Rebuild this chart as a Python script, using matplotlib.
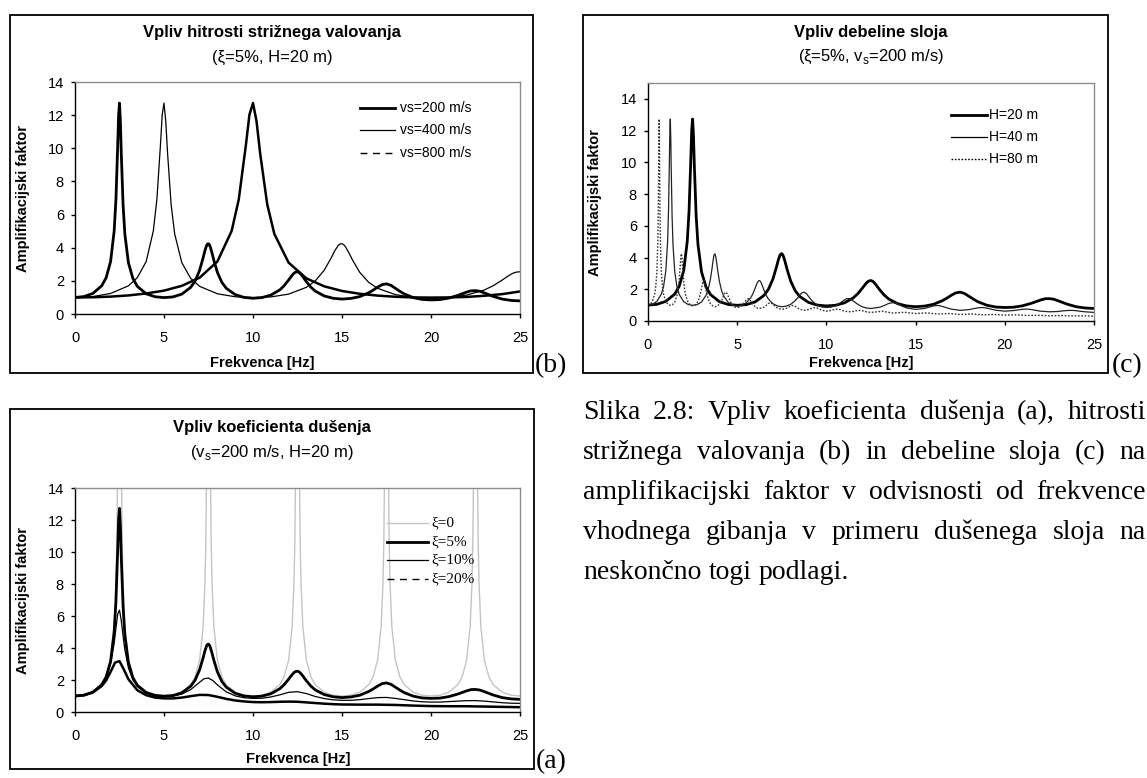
import matplotlib
matplotlib.use("Agg")
import matplotlib.pyplot as plt
from matplotlib.lines import Line2D
from matplotlib.patches import Rectangle

W, H = 1147, 778

# ---------------- data ----------------
x_ticks = [0, 5, 10, 15, 20, 25]

# (b) influence of shear wave velocity (xi=5%, H=20 m)
f_vs200 = [0, 0.5, 1, 1.5, 1.75, 2, 2.2, 2.3, 2.4, 2.45, 2.5, 2.55, 2.6, 2.7, 2.8, 3, 3.25, 3.5, 4, 4.5, 5,
           5.5, 6, 6.5, 6.75, 7, 7.2, 7.3, 7.4, 7.45, 7.5, 7.55, 7.6, 7.7, 7.8, 8, 8.25, 8.5, 9, 9.5, 10,
           10.5, 11, 11.5, 11.75, 12, 12.2, 12.3, 12.4, 12.5, 12.6, 12.7, 12.8, 13, 13.25, 13.5, 14, 14.5, 15,
           15.5, 16, 16.5, 16.75, 17, 17.25, 17.5, 17.75, 18, 18.25, 18.5, 19, 19.5, 20,
           20.5, 21, 21.5, 21.75, 22, 22.25, 22.5, 22.75, 23, 23.5, 24, 24.5, 25]
a_vs200 = [1.00, 1.05, 1.24, 1.70, 2.19, 3.17, 5.01, 6.91, 10.19, 12.03, 12.73, 11.62, 9.71, 6.61, 4.83, 3.10, 2.15, 1.67, 1.22, 1.04, 0.99,
           1.03, 1.20, 1.61, 2.00, 2.64, 3.40, 3.83, 4.15, 4.23, 4.24, 4.18, 4.05, 3.67, 3.24, 2.51, 1.91, 1.55, 1.17, 1.00, 0.95,
           0.99, 1.14, 1.45, 1.71, 2.05, 2.34, 2.46, 2.53, 2.55, 2.50, 2.39, 2.25, 1.95, 1.62, 1.38, 1.09, 0.95, 0.90,
           0.94, 1.05, 1.28, 1.44, 1.62, 1.77, 1.82, 1.73, 1.55, 1.37, 1.21, 0.99, 0.88, 0.85,
           0.87, 0.96, 1.12, 1.22, 1.32, 1.40, 1.41, 1.37, 1.27, 1.06, 0.90, 0.82, 0.79]

f_vs400 = [0, 1, 2, 3, 3.5, 4, 4.4, 4.6, 4.8, 4.9, 5, 5.1, 5.2, 5.4, 5.6, 6, 6.5, 7, 8, 9, 10,
           11, 12, 13, 13.5, 14, 14.4, 14.6, 14.8, 14.9, 15, 15.1, 15.2, 15.4, 15.6, 16, 16.5, 17, 18, 19, 20,
           21, 22, 23, 23.5, 24, 24.4, 24.6, 24.8, 25]
a_vs400 = [1.00, 1.05, 1.24, 1.70, 2.19, 3.17, 5.01, 6.91, 10.19, 12.03, 12.73, 11.62, 9.71, 6.61, 4.83, 3.10, 2.15, 1.67, 1.22, 1.04, 0.99,
           1.03, 1.20, 1.61, 2.00, 2.64, 3.40, 3.83, 4.15, 4.23, 4.24, 4.18, 4.05, 3.67, 3.24, 2.51, 1.91, 1.55, 1.17, 1.00, 0.95,
           0.99, 1.14, 1.45, 1.71, 2.05, 2.34, 2.46, 2.53, 2.55]

f_vs800 = [0, 1, 2, 3, 4, 5, 6, 7, 8, 8.8, 9.2, 9.6, 9.8, 10, 10.2, 10.4, 10.8, 11.2, 12, 13, 14, 15, 16,
           17, 18, 19, 20, 21, 22, 23, 24, 25]
a_vs800 = [1.00, 1.01, 1.05, 1.12, 1.24, 1.41, 1.70, 2.19, 3.17, 5.01, 6.91, 10.19, 12.03, 12.73, 11.62, 9.71, 6.61, 4.83, 3.10, 2.15, 1.67, 1.39, 1.22,
           1.11, 1.04, 1.00, 0.99, 1.00, 1.03, 1.10, 1.20, 1.36]

# (a) influence of damping (vs=200 m/s, H=20 m)
f_xi0 = [0, 0.5, 1, 1.5, 1.75, 2, 2.2, 2.3, 2.35, 2.4, 2.45, 2.55, 2.6, 2.65, 2.7, 2.8, 3, 3.25, 3.5, 4, 4.5, 5,
         5.5, 6, 6.5, 6.75, 7, 7.2, 7.3, 7.35, 7.4, 7.45, 7.55, 7.6, 7.65, 7.7, 7.8, 8, 8.25, 8.5, 9, 9.5, 10,
         10.5, 11, 11.5, 11.75, 12, 12.2, 12.3, 12.35, 12.4, 12.45, 12.55, 12.6, 12.65, 12.7, 12.8, 13, 13.25, 13.5, 14, 14.5, 15,
         15.5, 16, 16.5, 16.75, 17, 17.2, 17.3, 17.35, 17.4, 17.45, 17.55, 17.6, 17.65, 17.7, 17.8, 18, 18.25, 18.5, 19, 19.5, 20,
         20.5, 21, 21.5, 21.75, 22, 22.2, 22.3, 22.35, 22.4, 22.45, 22.55, 22.6, 22.65, 22.7, 22.8, 23, 23.25, 23.5, 24, 24.5, 25]
a_xi0 = [1.00, 1.05, 1.24, 1.70, 2.20, 3.24, 5.34, 7.98, 10.63, 15.92, 31.8, 31.8, 15.92, 10.63, 7.98, 5.34, 3.24, 2.20, 1.70, 1.24, 1.05, 1.00,
         1.05, 1.24, 1.70, 2.20, 3.24, 5.34, 7.98, 10.63, 15.92, 31.8, 31.8, 15.92, 10.63, 7.98, 5.34, 3.24, 2.20, 1.70, 1.24, 1.05, 1.00,
         1.05, 1.24, 1.70, 2.20, 3.24, 5.34, 7.98, 10.63, 15.92, 31.8, 31.8, 15.92, 10.63, 7.98, 5.34, 3.24, 2.20, 1.70, 1.24, 1.05, 1.00,
         1.05, 1.24, 1.70, 2.20, 3.24, 5.34, 7.98, 10.63, 15.92, 31.8, 31.8, 15.92, 10.63, 7.98, 5.34, 3.24, 2.20, 1.70, 1.24, 1.05, 1.00,
         1.05, 1.24, 1.70, 2.20, 3.24, 5.34, 7.98, 10.63, 15.92, 31.8, 31.8, 15.92, 10.63, 7.98, 5.34, 3.24, 2.20, 1.70, 1.24, 1.05, 1.00]

f_xi5 = f_vs200
a_xi5 = a_vs200

f_xi10 = [0, 0.5, 1, 1.5, 1.75, 2, 2.2, 2.3, 2.4, 2.5, 2.6, 2.7, 2.8, 3, 3.25, 3.5, 4, 4.5, 5,
          5.5, 6, 6.5, 7, 7.25, 7.5, 7.75, 8, 8.5, 9, 9.5, 10, 10.5, 11, 11.5, 12, 12.5, 13, 13.5, 14, 14.5, 15,
          15.5, 16, 16.5, 17, 17.5, 18, 18.5, 19, 19.5, 20, 20.5, 21, 21.5, 22, 22.5, 23, 23.5, 24, 24.5, 25]
a_xi10 = [1.00, 1.05, 1.23, 1.68, 2.14, 3.00, 4.29, 5.23, 6.12, 6.37, 5.71, 4.74, 3.89, 2.76, 2.01, 1.59, 1.18, 1.01, 0.95,
          0.99, 1.12, 1.40, 1.86, 2.08, 2.12, 1.96, 1.69, 1.26, 1.01, 0.89, 0.85, 0.86, 0.94, 1.07, 1.23, 1.27, 1.15, 0.97, 0.84, 0.76, 0.73,
          0.73, 0.77, 0.84, 0.90, 0.91, 0.85, 0.77, 0.69, 0.64, 0.62, 0.62, 0.65, 0.68, 0.71, 0.71, 0.68, 0.63, 0.58, 0.55, 0.54]

f_xi20 = [0, 0.5, 1, 1.5, 1.75, 2, 2.25, 2.5, 2.75, 3, 3.5, 4, 4.5, 5, 5.5, 6, 6.5, 7, 7.5, 8, 8.5, 9, 9.5, 10,
          10.5, 11, 11.5, 12, 12.5, 13, 13.5, 14, 14.5, 15, 16, 17, 17.5, 18, 19, 20, 21, 22, 22.5, 23, 24, 25]
a_xi20 = [1.00, 1.05, 1.22, 1.62, 1.98, 2.51, 3.09, 3.18, 2.64, 2.05, 1.36, 1.05, 0.90, 0.85, 0.85, 0.90, 0.99, 1.07, 1.06, 0.95, 0.82, 0.72, 0.66, 0.62,
          0.61, 0.62, 0.64, 0.65, 0.64, 0.60, 0.56, 0.52, 0.49, 0.47, 0.46, 0.46, 0.45, 0.44, 0.40, 0.37, 0.36, 0.36, 0.35, 0.34, 0.32, 0.30]

# (c) influence of layer thickness (xi=5%, vs=200 m/s)
f_h20 = f_vs200
a_h20 = a_vs200

f_h40 = [0, 0.25, 0.5, 0.75, 0.875, 1, 1.1, 1.15, 1.2, 1.225, 1.25, 1.275, 1.3, 1.35, 1.4, 1.5, 1.625, 1.75, 2, 2.25, 2.5,
         2.75, 3, 3.25, 3.375, 3.5, 3.6, 3.65, 3.7, 3.75, 3.8, 3.85, 3.9, 4, 4.125, 4.25, 4.5, 4.75, 5,
         5.25, 5.5, 5.75, 5.875, 6, 6.1, 6.15, 6.2, 6.25, 6.3, 6.35, 6.4, 6.5, 6.625, 6.75, 7, 7.25, 7.5,
         7.75, 8, 8.25, 8.375, 8.5, 8.625, 8.75, 8.875, 9, 9.125, 9.25, 9.5, 9.75, 10,
         10.25, 10.5, 10.75, 10.875, 11, 11.125, 11.25, 11.375, 11.5, 11.75, 12, 12.25, 12.5,
         13, 13.25, 13.5, 13.75, 14, 14.25, 14.5, 15, 15.5, 15.75, 16, 16.25, 16.5, 16.75, 17, 17.5,
         18, 18.25, 18.5, 18.75, 19, 19.25, 19.5, 20, 20.5, 20.75, 21, 21.25, 21.5, 21.75, 22, 22.5,
         23, 23.25, 23.5, 23.75, 24, 24.25, 24.5, 25]
a_h40 = [1.00, 1.05, 1.24, 1.70, 2.19, 3.17, 5.01, 6.91, 10.19, 12.03, 12.73, 11.62, 9.71, 6.61, 4.83, 3.10, 2.15, 1.67, 1.22, 1.04, 0.99,
         1.03, 1.20, 1.61, 2.00, 2.64, 3.40, 3.83, 4.15, 4.24, 4.05, 3.67, 3.24, 2.51, 1.91, 1.55, 1.17, 1.00, 0.95,
         0.99, 1.14, 1.45, 1.71, 2.05, 2.34, 2.46, 2.53, 2.55, 2.50, 2.39, 2.25, 1.95, 1.62, 1.38, 1.09, 0.95, 0.90,
         0.94, 1.05, 1.28, 1.44, 1.62, 1.77, 1.82, 1.73, 1.55, 1.37, 1.21, 0.99, 0.88, 0.85,
         0.87, 0.96, 1.12, 1.22, 1.32, 1.40, 1.41, 1.37, 1.27, 1.06, 0.90, 0.82, 0.79,
         0.87, 0.98, 1.11, 1.16, 1.07, 0.93, 0.82, 0.73, 0.79, 0.87, 0.95, 0.98, 0.92, 0.83, 0.75, 0.67,
         0.72, 0.78, 0.83, 0.85, 0.81, 0.74, 0.68, 0.62, 0.66, 0.70, 0.74, 0.75, 0.72, 0.67, 0.62, 0.58,
         0.60, 0.64, 0.66, 0.67, 0.65, 0.61, 0.58, 0.54]

f_h80 = [0, 0.125, 0.25, 0.375, 0.4375, 0.5, 0.55, 0.575, 0.6, 0.6125, 0.625, 0.6375, 0.65, 0.675, 0.7, 0.75, 0.8125, 0.875, 1, 1.125, 1.25,
         1.375, 1.5, 1.625, 1.6875, 1.75, 1.8, 1.825, 1.85, 1.875, 1.9, 1.925, 1.95, 2, 2.0625, 2.125, 2.25, 2.375, 2.5,
         2.625, 2.75, 2.875, 3, 3.05, 3.1, 3.125, 3.15, 3.2, 3.25, 3.375, 3.5, 3.625, 3.75,
         3.875, 4, 4.125, 4.25, 4.3125, 4.375, 4.4375, 4.5, 4.625, 4.75, 4.875, 5,
         5.125, 5.25, 5.375, 5.5, 5.5625, 5.625, 5.6875, 5.75, 5.875, 6, 6.125, 6.25,
         6.5, 6.625, 6.75, 6.875, 7, 7.125, 7.25, 7.5, 7.75, 7.875, 8, 8.125, 8.25, 8.375, 8.5, 8.75,
         9, 9.125, 9.25, 9.375, 9.5, 9.625, 9.75, 10, 10.25, 10.375, 10.5, 10.625, 10.75, 10.875, 11, 11.25,
         11.5, 11.625, 11.75, 11.875, 12, 12.125, 12.25, 12.5,
         13.125, 13.75, 14.375, 15, 15.625, 16.25, 16.875, 17.5, 18.125, 18.75, 19.375, 20,
         20.625, 21.25, 21.875, 22.5, 23.125, 23.75, 24.375, 25]
a_h80 = [1.00, 1.05, 1.24, 1.70, 2.19, 3.17, 5.01, 6.91, 10.19, 12.03, 12.73, 11.62, 9.71, 6.61, 4.83, 3.10, 2.15, 1.67, 1.22, 1.04, 0.99,
         1.03, 1.20, 1.61, 2.00, 2.64, 3.40, 3.83, 4.15, 4.24, 4.05, 3.67, 3.24, 2.51, 1.91, 1.55, 1.17, 1.00, 0.95,
         0.99, 1.14, 1.45, 2.05, 2.34, 2.53, 2.55, 2.50, 2.25, 1.95, 1.38, 1.09, 0.95, 0.90,
         0.94, 1.05, 1.28, 1.62, 1.77, 1.82, 1.73, 1.55, 1.21, 0.99, 0.88, 0.85,
         0.87, 0.96, 1.12, 1.32, 1.40, 1.41, 1.37, 1.27, 1.06, 0.90, 0.82, 0.79,
         0.87, 0.98, 1.11, 1.16, 1.07, 0.93, 0.82, 0.73, 0.79, 0.87, 0.95, 0.98, 0.92, 0.83, 0.75, 0.67,
         0.72, 0.78, 0.83, 0.85, 0.81, 0.74, 0.68, 0.62, 0.66, 0.70, 0.74, 0.75, 0.72, 0.67, 0.62, 0.58,
         0.60, 0.64, 0.66, 0.67, 0.65, 0.61, 0.58, 0.54,
         0.61, 0.50, 0.55, 0.47, 0.51, 0.44, 0.47, 0.41, 0.44, 0.39, 0.41, 0.37,
         0.39, 0.35, 0.36, 0.33, 0.34, 0.32, 0.33, 0.30]

caption_lines = ["Slika 2.8: Vpliv koeficienta dušenja (a), hitrosti",
                 "strižnega valovanja (b) in debeline sloja (c) na",
                 "amplifikacijski faktor v odvisnosti od frekvence",
                 "vhodnega gibanja v primeru dušenega sloja na",
                 "neskončno togi podlagi."]

# ---------------- figure ----------------
SANS = ["Liberation Sans", "Arial", "DejaVu Sans"]
SERIF = ["Liberation Serif", "Times New Roman", "DejaVu Serif"]
plt.rcParams["font.family"] = SANS

fig = plt.figure(figsize=(W / 100, H / 100), dpi=100)


def fx(px):
    return px / W


def fy(py):
    return 1 - py / H


def add_plot(x0, y0, x1, y1, ymax):
    ax = fig.add_axes([fx(x0), fy(y1), (x1 - x0) / W, (y1 - y0) / H])
    ax.set_xlim(0, 25)
    ax.set_ylim(0, ymax)
    ax.set_xticks(x_ticks)
    ax.set_yticks(list(range(0, 15, 2)))
    for s in ("top", "right"):
        ax.spines[s].set_color("#8c8c8c")
        ax.spines[s].set_linewidth(1.0)
    for s in ("left", "bottom"):
        ax.spines[s].set_color("black")
        ax.spines[s].set_linewidth(1.0)
    ax.tick_params(direction="out", length=3, width=1, labelsize=10.5)
    ax.tick_params(axis="x", pad=9.5)
    ax.tick_params(axis="y", pad=5)
    return ax


def box(x0, y0, x1, y1):
    fig.add_artist(Rectangle((fx(x0), fy(y1)), (x1 - x0) / W, (y1 - y0) / H,
                             transform=fig.transFigure, fill=False, lw=1.3, ec="black"))


def legend(x0, x1, xt, ys, styles, labels, family, size):
    for y, st, lab in zip(ys, styles, labels):
        fig.add_artist(Line2D([fx(x0), fx(x1)], [fy(y), fy(y)], transform=fig.transFigure, **st))
        fig.text(fx(xt), fy(y), lab, family=family, fontsize=size, va="center", ha="left")


# ---- panel (b) ----
box(10, 15, 533, 373)
axb = add_plot(75, 82, 520, 314, 14)
axb.plot(f_vs200, a_vs200, color="black", lw=2.0)
axb.plot(f_vs400, a_vs400, color="black", lw=0.9)
axb.plot(f_vs800, a_vs800, color="black", lw=1.8)
fig.text(fx(272), fy(32), "Vpliv hitrosti strižnega valovanja", ha="center", va="center", fontsize=12, weight="bold")
fig.text(fx(272), fy(57), "(ξ=5%, H=20 m)", ha="center", va="center", fontsize=12)
fig.text(fx(23), fy(198), "Amplifikacijski faktor", rotation=90, ha="center", va="center", fontsize=10.5, weight="bold")
fig.text(fx(262), fy(363), "Frekvenca [Hz]", ha="center", va="center", fontsize=10.5, weight="bold")
legend(360, 395, 400, [108, 130, 153],
       [dict(color="black", lw=2.0), dict(color="black", lw=0.9), dict(color="black", lw=1.0, ls=(0, (5, 4)))],
       ["vs=200 m/s", "vs=400 m/s", "vs=800 m/s"], SANS, 10)
fig.text(fx(535), fy(372), "(b)", family=SERIF, fontsize=20, ha="left", va="baseline")

# ---- panel (c) ----
box(583, 15, 1108, 373)
axc = add_plot(648, 83, 1094, 321, 15)
axc.plot(f_h20, a_h20, color="black", lw=2.0)
axc.plot(f_h40, a_h40, color="#222222", lw=0.9)
axc.plot(f_h80, a_h80, color="#333333", lw=1.0, ls=(0, (1.2, 1.2)))
fig.text(fx(871), fy(32), "Vpliv debeline sloja", ha="center", va="center", fontsize=12, weight="bold")
fig.text(fx(871), fy(57), "(ξ=5%, v$_\\mathregular{s}$=200 m/s)", ha="center", va="center", fontsize=12)
fig.text(fx(595), fy(202), "Amplifikacijski faktor", rotation=90, ha="center", va="center", fontsize=10.5, weight="bold")
fig.text(fx(861), fy(363), "Frekvenca [Hz]", ha="center", va="center", fontsize=10.5, weight="bold")
legend(951, 987, 989, [115, 137, 159],
       [dict(color="black", lw=2.0), dict(color="black", lw=0.9), dict(color="black", lw=1.0, ls=(0, (1.2, 1.2)))],
       ["H=20 m", "H=40 m", "H=80 m"], SANS, 10)
fig.text(fx(1112), fy(372), "(c)", family=SERIF, fontsize=20, ha="left", va="baseline")

# ---- panel (a) ----
box(10, 409, 534, 769)
axa = add_plot(75, 488, 520, 712, 14)
axa.plot(f_xi0, a_xi0, color="#c4c4c4", lw=1.0)
axa.plot(f_xi5, a_xi5, color="black", lw=2.0)
axa.plot(f_xi10, a_xi10, color="black", lw=0.9)
axa.plot(f_xi20, a_xi20, color="black", lw=1.8)
fig.text(fx(272), fy(427), "Vpliv koeficienta dušenja", ha="center", va="center", fontsize=12, weight="bold")
fig.text(fx(272), fy(452), "(v$_\\mathregular{s}$=200 m/s, H=20 m)", ha="center", va="center", fontsize=12)
fig.text(fx(23), fy(600), "Amplifikacijski faktor", rotation=90, ha="center", va="center", fontsize=10.5, weight="bold")
fig.text(fx(298), fy(759), "Frekvenca [Hz]", ha="center", va="center", fontsize=10.5, weight="bold")
legend(387, 428, 431, [523, 542, 560, 579],
       [dict(color="#c4c4c4", lw=1.0), dict(color="black", lw=2.0), dict(color="black", lw=0.9),
        dict(color="black", lw=1.0, ls=(0, (5, 4)))],
       ["ξ=0", "ξ=5%", "ξ=10%", "ξ=20%"], SERIF, 11)
fig.text(fx(536), fy(768), "(a)", family=SERIF, fontsize=20, ha="left", va="baseline")

# ---- caption (justified) ----
renderer = fig.canvas.get_renderer()
cap_x0, cap_x1 = 583, 1146
cap_base = [419, 459, 499, 539, 579]
for i, (line, y) in enumerate(zip(caption_lines, cap_base)):
    words = line.split(" ")
    texts = [fig.text(0, 0, w, family=SERIF, fontsize=20, va="baseline", ha="left") for w in words]
    widths = [t.get_window_extent(renderer).width for t in texts]
    if i < len(caption_lines) - 1:
        gap = (cap_x1 - cap_x0 - sum(widths)) / (len(words) - 1)
    else:
        gap = 7
    x = cap_x0
    for t, wd in zip(texts, widths):
        t.set_position((fx(x), fy(y)))
        x += wd + gap

fig.savefig("out.png", dpi=100)
